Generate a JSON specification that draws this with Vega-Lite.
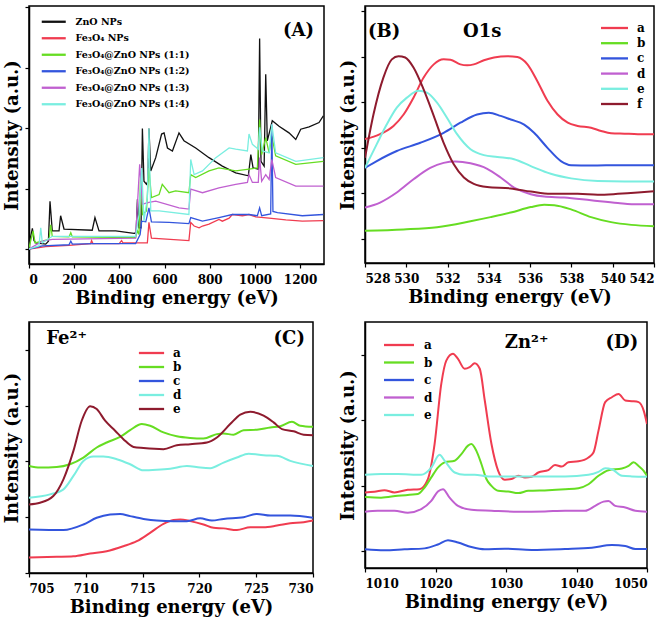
{
  "$schema": "https://vega.github.io/schema/vega-lite/v6.json",
  "background": "white",
  "padding": {"left": -10, "top": 5, "right": 0, "bottom": 0},
  "config": {
    "font": "DejaVu Serif",
    "view": {"stroke": "black", "strokeWidth": 1.5},
    "axis": {"labelFont": "DejaVu Serif", "labelFontWeight": "bold", "labelFontSize": 12, "labelColor": "black",
             "titleFont": "DejaVu Serif", "titleFontWeight": "bold", "titleFontSize": 18, "titleColor": "black",
             "grid": false, "tickColor": "black", "tickSize": 4, "tickWidth": 1.2, "domainColor": "black", "domainWidth": 1.5,
             "labelPadding": 6, "titlePadding": 4, "format": "d"},
    "axisY": {"titlePadding": 3},
    "legend": {"orient": "none", "title": null, "padding": 0, "labelFont": "DejaVu Serif", "labelFontWeight": "bold",
               "labelColor": "black", "symbolStrokeWidth": 2.3, "symbolSize": 36},
    "text": {"font": "DejaVu Serif", "fontWeight": "bold", "fontSize": 18, "color": "black"}
  },
  "resolve": {"scale": {"color": "independent"}, "legend": {"color": "independent"}},
  "columns": 4,
  "bounds": "flush",
  "align": "none",
  "spacing": {"row": 58, "column": 1},
  "concat": [
    {"width": 26, "height": 1, "data": {"values": []}, "mark": {"type": "point"}, "view": {"stroke": null}},
    {
      "width": 295, "height": 258,
      "data": {"values": [
        {"s":"ZnO NPs","x":0,"y":0},{"s":"ZnO NPs","x":3,"y":0.13},{"s":"ZnO NPs","x":15,"y":0.34},{"s":"ZnO NPs","x":22,"y":0.14},{"s":"ZnO NPs","x":30,"y":0.10},{"s":"ZnO NPs","x":74,"y":0.08},{"s":"ZnO NPs","x":86,"y":0.13},{"s":"ZnO NPs","x":93,"y":0.79},{"s":"ZnO NPs","x":103,"y":0.30},{"s":"ZnO NPs","x":133,"y":0.30},{"s":"ZnO NPs","x":140,"y":0.55},{"s":"ZnO NPs","x":155,"y":0.33},{"s":"ZnO NPs","x":280,"y":0.31},{"s":"ZnO NPs","x":292,"y":0.52},{"s":"ZnO NPs","x":310,"y":0.30},{"s":"ZnO NPs","x":384,"y":0.30},{"s":"ZnO NPs","x":465,"y":0.26},{"s":"ZnO NPs","x":474,"y":0.26},{"s":"ZnO NPs","x":480,"y":0.82},{"s":"ZnO NPs","x":487,"y":0.35},{"s":"ZnO NPs","x":496,"y":0.35},{"s":"ZnO NPs","x":502,"y":1.99},{"s":"ZnO NPs","x":509,"y":1.12},{"s":"ZnO NPs","x":520,"y":1.07},{"s":"ZnO NPs","x":526,"y":1.12},{"s":"ZnO NPs","x":531,"y":1.99},{"s":"ZnO NPs","x":539,"y":1.29},{"s":"ZnO NPs","x":561,"y":1.51},{"s":"ZnO NPs","x":587,"y":1.90},{"s":"ZnO NPs","x":598,"y":1.92},{"s":"ZnO NPs","x":613,"y":1.67},{"s":"ZnO NPs","x":635,"y":1.62},{"s":"ZnO NPs","x":664,"y":1.92},{"s":"ZnO NPs","x":686,"y":1.79},{"s":"ZnO NPs","x":738,"y":1.67},{"s":"ZnO NPs","x":797,"y":1.51},{"s":"ZnO NPs","x":856,"y":1.37},{"s":"ZnO NPs","x":915,"y":1.26},{"s":"ZnO NPs","x":971,"y":1.21},{"s":"ZnO NPs","x":982,"y":1.56},{"s":"ZnO NPs","x":992,"y":1.34},{"s":"ZnO NPs","x":1015,"y":1.32},{"s":"ZnO NPs","x":1021,"y":3.48},{"s":"ZnO NPs","x":1027,"y":1.45},{"s":"ZnO NPs","x":1041,"y":1.37},{"s":"ZnO NPs","x":1048,"y":2.89},{"s":"ZnO NPs","x":1055,"y":1.79},{"s":"ZnO NPs","x":1070,"y":2.01},{"s":"ZnO NPs","x":1077,"y":2.12},{"s":"ZnO NPs","x":1107,"y":2.03},{"s":"ZnO NPs","x":1151,"y":1.92},{"s":"ZnO NPs","x":1181,"y":1.81},{"s":"ZnO NPs","x":1203,"y":1.98},{"s":"ZnO NPs","x":1240,"y":2.02},{"s":"ZnO NPs","x":1284,"y":2.09},{"s":"ZnO NPs","x":1303,"y":2.20},
        {"s":"Fe₃O₄ NPs","x":0,"y":0},{"s":"Fe₃O₄ NPs","x":74,"y":0.04},{"s":"Fe₃O₄ NPs","x":177,"y":0.06},{"s":"Fe₃O₄ NPs","x":273,"y":0.09},{"s":"Fe₃O₄ NPs","x":277,"y":0.14},{"s":"Fe₃O₄ NPs","x":283,"y":0.09},{"s":"Fe₃O₄ NPs","x":399,"y":0.09},{"s":"Fe₃O₄ NPs","x":410,"y":0.14},{"s":"Fe₃O₄ NPs","x":416,"y":0.10},{"s":"Fe₃O₄ NPs","x":524,"y":0.10},{"s":"Fe₃O₄ NPs","x":531,"y":0.44},{"s":"Fe₃O₄ NPs","x":542,"y":0.18},{"s":"Fe₃O₄ NPs","x":708,"y":0.14},{"s":"Fe₃O₄ NPs","x":716,"y":0.44},{"s":"Fe₃O₄ NPs","x":731,"y":0.38},{"s":"Fe₃O₄ NPs","x":753,"y":0.35},{"s":"Fe₃O₄ NPs","x":768,"y":0.38},{"s":"Fe₃O₄ NPs","x":797,"y":0.41},{"s":"Fe₃O₄ NPs","x":841,"y":0.49},{"s":"Fe₃O₄ NPs","x":856,"y":0.46},{"s":"Fe₃O₄ NPs","x":886,"y":0.51},{"s":"Fe₃O₄ NPs","x":900,"y":0.57},{"s":"Fe₃O₄ NPs","x":945,"y":0.55},{"s":"Fe₃O₄ NPs","x":974,"y":0.57},{"s":"Fe₃O₄ NPs","x":1004,"y":0.53},{"s":"Fe₃O₄ NPs","x":1063,"y":0.51},{"s":"Fe₃O₄ NPs","x":1137,"y":0.48},{"s":"Fe₃O₄ NPs","x":1210,"y":0.46},{"s":"Fe₃O₄ NPs","x":1303,"y":0.47},
        {"s":"Fe₃O₄@ZnO NPs (1:1)","x":0,"y":0.02},{"s":"Fe₃O₄@ZnO NPs (1:1)","x":18,"y":0.30},{"s":"Fe₃O₄@ZnO NPs (1:1)","x":27,"y":0.10},{"s":"Fe₃O₄@ZnO NPs (1:1)","x":89,"y":0.16},{"s":"Fe₃O₄@ZnO NPs (1:1)","x":96,"y":0.40},{"s":"Fe₃O₄@ZnO NPs (1:1)","x":103,"y":0.21},{"s":"Fe₃O₄@ZnO NPs (1:1)","x":177,"y":0.20},{"s":"Fe₃O₄@ZnO NPs (1:1)","x":185,"y":0.27},{"s":"Fe₃O₄@ZnO NPs (1:1)","x":192,"y":0.20},{"s":"Fe₃O₄@ZnO NPs (1:1)","x":472,"y":0.19},{"s":"Fe₃O₄@ZnO NPs (1:1)","x":480,"y":0.30},{"s":"Fe₃O₄@ZnO NPs (1:1)","x":487,"y":0.24},{"s":"Fe₃O₄@ZnO NPs (1:1)","x":494,"y":1.23},{"s":"Fe₃O₄@ZnO NPs (1:1)","x":502,"y":0.57},{"s":"Fe₃O₄@ZnO NPs (1:1)","x":520,"y":0.63},{"s":"Fe₃O₄@ZnO NPs (1:1)","x":531,"y":1.34},{"s":"Fe₃O₄@ZnO NPs (1:1)","x":542,"y":0.85},{"s":"Fe₃O₄@ZnO NPs (1:1)","x":576,"y":0.90},{"s":"Fe₃O₄@ZnO NPs (1:1)","x":590,"y":1.07},{"s":"Fe₃O₄@ZnO NPs (1:1)","x":620,"y":0.93},{"s":"Fe₃O₄@ZnO NPs (1:1)","x":649,"y":0.96},{"s":"Fe₃O₄@ZnO NPs (1:1)","x":708,"y":0.93},{"s":"Fe₃O₄@ZnO NPs (1:1)","x":716,"y":1.23},{"s":"Fe₃O₄@ZnO NPs (1:1)","x":738,"y":1.18},{"s":"Fe₃O₄@ZnO NPs (1:1)","x":797,"y":1.29},{"s":"Fe₃O₄@ZnO NPs (1:1)","x":841,"y":1.34},{"s":"Fe₃O₄@ZnO NPs (1:1)","x":915,"y":1.29},{"s":"Fe₃O₄@ZnO NPs (1:1)","x":974,"y":1.32},{"s":"Fe₃O₄@ZnO NPs (1:1)","x":1011,"y":1.34},{"s":"Fe₃O₄@ZnO NPs (1:1)","x":1021,"y":2.14},{"s":"Fe₃O₄@ZnO NPs (1:1)","x":1030,"y":1.56},{"s":"Fe₃O₄@ZnO NPs (1:1)","x":1048,"y":1.84},{"s":"Fe₃O₄@ZnO NPs (1:1)","x":1063,"y":1.59},{"s":"Fe₃O₄@ZnO NPs (1:1)","x":1075,"y":1.87},{"s":"Fe₃O₄@ZnO NPs (1:1)","x":1092,"y":1.54},{"s":"Fe₃O₄@ZnO NPs (1:1)","x":1181,"y":1.40},{"s":"Fe₃O₄@ZnO NPs (1:1)","x":1303,"y":1.45},
        {"s":"Fe₃O₄@ZnO NPs (1:2)","x":0,"y":0},{"s":"Fe₃O₄@ZnO NPs (1:2)","x":59,"y":0.05},{"s":"Fe₃O₄@ZnO NPs (1:2)","x":177,"y":0.07},{"s":"Fe₃O₄@ZnO NPs (1:2)","x":185,"y":0.13},{"s":"Fe₃O₄@ZnO NPs (1:2)","x":192,"y":0.08},{"s":"Fe₃O₄@ZnO NPs (1:2)","x":295,"y":0.09},{"s":"Fe₃O₄@ZnO NPs (1:2)","x":472,"y":0.09},{"s":"Fe₃O₄@ZnO NPs (1:2)","x":492,"y":0.24},{"s":"Fe₃O₄@ZnO NPs (1:2)","x":499,"y":0.46},{"s":"Fe₃O₄@ZnO NPs (1:2)","x":517,"y":0.45},{"s":"Fe₃O₄@ZnO NPs (1:2)","x":531,"y":0.68},{"s":"Fe₃O₄@ZnO NPs (1:2)","x":542,"y":0.45},{"s":"Fe₃O₄@ZnO NPs (1:2)","x":620,"y":0.44},{"s":"Fe₃O₄@ZnO NPs (1:2)","x":708,"y":0.42},{"s":"Fe₃O₄@ZnO NPs (1:2)","x":716,"y":0.52},{"s":"Fe₃O₄@ZnO NPs (1:2)","x":768,"y":0.46},{"s":"Fe₃O₄@ZnO NPs (1:2)","x":841,"y":0.52},{"s":"Fe₃O₄@ZnO NPs (1:2)","x":900,"y":0.57},{"s":"Fe₃O₄@ZnO NPs (1:2)","x":974,"y":0.57},{"s":"Fe₃O₄@ZnO NPs (1:2)","x":1011,"y":0.55},{"s":"Fe₃O₄@ZnO NPs (1:2)","x":1021,"y":0.68},{"s":"Fe₃O₄@ZnO NPs (1:2)","x":1030,"y":0.55},{"s":"Fe₃O₄@ZnO NPs (1:2)","x":1070,"y":0.58},{"s":"Fe₃O₄@ZnO NPs (1:2)","x":1075,"y":2.06},{"s":"Fe₃O₄@ZnO NPs (1:2)","x":1080,"y":0.62},{"s":"Fe₃O₄@ZnO NPs (1:2)","x":1100,"y":0.60},{"s":"Fe₃O₄@ZnO NPs (1:2)","x":1210,"y":0.55},{"s":"Fe₃O₄@ZnO NPs (1:2)","x":1303,"y":0.57},
        {"s":"Fe₃O₄@ZnO NPs (1:3)","x":0,"y":0},{"s":"Fe₃O₄@ZnO NPs (1:3)","x":59,"y":0.13},{"s":"Fe₃O₄@ZnO NPs (1:3)","x":103,"y":0.16},{"s":"Fe₃O₄@ZnO NPs (1:3)","x":472,"y":0.18},{"s":"Fe₃O₄@ZnO NPs (1:3)","x":490,"y":1.40},{"s":"Fe₃O₄@ZnO NPs (1:3)","x":502,"y":0.74},{"s":"Fe₃O₄@ZnO NPs (1:3)","x":531,"y":0.77},{"s":"Fe₃O₄@ZnO NPs (1:3)","x":561,"y":0.79},{"s":"Fe₃O₄@ZnO NPs (1:3)","x":664,"y":0.68},{"s":"Fe₃O₄@ZnO NPs (1:3)","x":708,"y":0.66},{"s":"Fe₃O₄@ZnO NPs (1:3)","x":716,"y":0.99},{"s":"Fe₃O₄@ZnO NPs (1:3)","x":768,"y":0.93},{"s":"Fe₃O₄@ZnO NPs (1:3)","x":841,"y":1.01},{"s":"Fe₃O₄@ZnO NPs (1:3)","x":915,"y":1.07},{"s":"Fe₃O₄@ZnO NPs (1:3)","x":967,"y":1.10},{"s":"Fe₃O₄@ZnO NPs (1:3)","x":974,"y":1.23},{"s":"Fe₃O₄@ZnO NPs (1:3)","x":989,"y":1.10},{"s":"Fe₃O₄@ZnO NPs (1:3)","x":1015,"y":1.10},{"s":"Fe₃O₄@ZnO NPs (1:3)","x":1021,"y":1.51},{"s":"Fe₃O₄@ZnO NPs (1:3)","x":1030,"y":1.12},{"s":"Fe₃O₄@ZnO NPs (1:3)","x":1048,"y":1.23},{"s":"Fe₃O₄@ZnO NPs (1:3)","x":1063,"y":1.15},{"s":"Fe₃O₄@ZnO NPs (1:3)","x":1075,"y":1.48},{"s":"Fe₃O₄@ZnO NPs (1:3)","x":1092,"y":1.18},{"s":"Fe₃O₄@ZnO NPs (1:3)","x":1181,"y":1.04},{"s":"Fe₃O₄@ZnO NPs (1:3)","x":1303,"y":1.04},
        {"s":"Fe₃O₄@ZnO NPs (1:4)","x":0,"y":0},{"s":"Fe₃O₄@ZnO NPs (1:4)","x":44,"y":0.05},{"s":"Fe₃O₄@ZnO NPs (1:4)","x":52,"y":0.35},{"s":"Fe₃O₄@ZnO NPs (1:4)","x":59,"y":0.10},{"s":"Fe₃O₄@ZnO NPs (1:4)","x":103,"y":0.21},{"s":"Fe₃O₄@ZnO NPs (1:4)","x":472,"y":0.21},{"s":"Fe₃O₄@ZnO NPs (1:4)","x":487,"y":0.57},{"s":"Fe₃O₄@ZnO NPs (1:4)","x":499,"y":1.34},{"s":"Fe₃O₄@ZnO NPs (1:4)","x":509,"y":0.46},{"s":"Fe₃O₄@ZnO NPs (1:4)","x":524,"y":0.85},{"s":"Fe₃O₄@ZnO NPs (1:4)","x":531,"y":1.99},{"s":"Fe₃O₄@ZnO NPs (1:4)","x":539,"y":0.63},{"s":"Fe₃O₄@ZnO NPs (1:4)","x":576,"y":0.63},{"s":"Fe₃O₄@ZnO NPs (1:4)","x":708,"y":0.57},{"s":"Fe₃O₄@ZnO NPs (1:4)","x":716,"y":1.48},{"s":"Fe₃O₄@ZnO NPs (1:4)","x":731,"y":1.23},{"s":"Fe₃O₄@ZnO NPs (1:4)","x":768,"y":1.29},{"s":"Fe₃O₄@ZnO NPs (1:4)","x":827,"y":1.51},{"s":"Fe₃O₄@ZnO NPs (1:4)","x":886,"y":1.67},{"s":"Fe₃O₄@ZnO NPs (1:4)","x":915,"y":1.65},{"s":"Fe₃O₄@ZnO NPs (1:4)","x":967,"y":1.62},{"s":"Fe₃O₄@ZnO NPs (1:4)","x":974,"y":1.90},{"s":"Fe₃O₄@ZnO NPs (1:4)","x":989,"y":1.73},{"s":"Fe₃O₄@ZnO NPs (1:4)","x":1015,"y":1.65},{"s":"Fe₃O₄@ZnO NPs (1:4)","x":1021,"y":2.01},{"s":"Fe₃O₄@ZnO NPs (1:4)","x":1033,"y":1.62},{"s":"Fe₃O₄@ZnO NPs (1:4)","x":1063,"y":1.59},{"s":"Fe₃O₄@ZnO NPs (1:4)","x":1075,"y":2.06},{"s":"Fe₃O₄@ZnO NPs (1:4)","x":1092,"y":1.59},{"s":"Fe₃O₄@ZnO NPs (1:4)","x":1181,"y":1.45},{"s":"Fe₃O₄@ZnO NPs (1:4)","x":1303,"y":1.51}
      ]},
      "layer": [
        {
          "mark": {"type": "line", "strokeWidth": 1.3, "clip": true},
          "encoding": {
            "x": {"field": "x", "type": "quantitative", "scale": {"domain": [0, 1306], "nice": false, "zero": false},
                  "axis": {"values": [0, 200, 400, 600, 800, 1000, 1200], "title": "Binding energy (eV)"}},
            "y": {"field": "y", "type": "quantitative", "scale": {"domain": [-0.248, 4.017], "nice": false, "zero": false},
                  "axis": {"values": [0, 1, 2, 3, 4], "labels": false, "title": "Intensity (a.u.)"}},
            "color": {"field": "s", "type": "nominal",
                      "scale": {"domain": ["ZnO NPs", "Fe₃O₄ NPs", "Fe₃O₄@ZnO NPs (1:1)", "Fe₃O₄@ZnO NPs (1:2)", "Fe₃O₄@ZnO NPs (1:3)", "Fe₃O₄@ZnO NPs (1:4)"],
                                "range": ["#111111", "#f03c50", "#66dd22", "#3355dd", "#c060d0", "#7aeee0"]},
                      "legend": {"legendX": 20, "legendY": 11, "symbolType": "M-4,0H4", "labelOffset": 17, "rowPadding": 5.5, "labelFontSize": 9.5}}
          }
        },
        {
          "data": {"values": [{"t": "(A)"}]},
          "mark": {"type": "text"},
          "encoding": {"x": {"datum": 1193}, "y": {"datum": 3.61}, "text": {"field": "t"}}
        }
      ]
    },
    {"width": 33, "height": 1, "data": {"values": []}, "mark": {"type": "point"}, "view": {"stroke": null}},
    {
      "width": 289, "height": 257,
      "data": {"values": [
        {"s":"a","x":528.0,"y":2.19},{"s":"a","x":528.73,"y":2.30},{"s":"a","x":529.38,"y":2.48},{"s":"a","x":529.87,"y":2.73},{"s":"a","x":530.35,"y":3.10},{"s":"a","x":530.84,"y":3.54},{"s":"a","x":531.33,"y":3.83},{"s":"a","x":531.81,"y":3.94},{"s":"a","x":532.14,"y":3.93},{"s":"a","x":532.62,"y":3.83},{"s":"a","x":532.95,"y":3.81},{"s":"a","x":533.27,"y":3.83},{"s":"a","x":533.76,"y":3.92},{"s":"a","x":534.25,"y":3.98},{"s":"a","x":534.89,"y":4.01},{"s":"a","x":535.38,"y":3.99},{"s":"a","x":535.87,"y":3.83},{"s":"a","x":536.35,"y":3.46},{"s":"a","x":536.84,"y":3.03},{"s":"a","x":537.33,"y":2.73},{"s":"a","x":537.82,"y":2.55},{"s":"a","x":538.30,"y":2.48},{"s":"a","x":538.95,"y":2.44},{"s":"a","x":539.44,"y":2.37},{"s":"a","x":539.92,"y":2.32},{"s":"a","x":540.57,"y":2.31},{"s":"a","x":541.22,"y":2.30},{"s":"a","x":542.0,"y":2.30},
        {"s":"b","x":528,"y":0.18},{"s":"b","x":529.87,"y":0.21},{"s":"b","x":531.49,"y":0.26},{"s":"b","x":533.11,"y":0.39},{"s":"b","x":534.08,"y":0.48},{"s":"b","x":535.06,"y":0.58},{"s":"b","x":536.03,"y":0.70},{"s":"b","x":536.68,"y":0.75},{"s":"b","x":537.17,"y":0.74},{"s":"b","x":537.98,"y":0.65},{"s":"b","x":538.95,"y":0.48},{"s":"b","x":539.92,"y":0.37},{"s":"b","x":540.90,"y":0.31},{"s":"b","x":542,"y":0.28},
        {"s":"c","x":528,"y":1.56},{"s":"c","x":528.57,"y":1.71},{"s":"c","x":529.54,"y":1.93},{"s":"c","x":530.68,"y":2.11},{"s":"c","x":531.81,"y":2.33},{"s":"c","x":532.62,"y":2.55},{"s":"c","x":533.43,"y":2.73},{"s":"c","x":534.0,"y":2.77},{"s":"c","x":534.57,"y":2.70},{"s":"c","x":535.06,"y":2.62},{"s":"c","x":535.71,"y":2.51},{"s":"c","x":536.19,"y":2.33},{"s":"c","x":536.84,"y":2.00},{"s":"c","x":537.49,"y":1.71},{"s":"c","x":537.98,"y":1.62},{"s":"c","x":538.95,"y":1.61},{"s":"c","x":540.41,"y":1.62},{"s":"c","x":542,"y":1.62},
        {"s":"d","x":528,"y":0.69},{"s":"d","x":528.73,"y":0.80},{"s":"d","x":529.54,"y":1.02},{"s":"d","x":530.35,"y":1.31},{"s":"d","x":531.16,"y":1.56},{"s":"d","x":531.81,"y":1.67},{"s":"d","x":532.38,"y":1.70},{"s":"d","x":533.11,"y":1.66},{"s":"d","x":533.92,"y":1.54},{"s":"d","x":534.57,"y":1.35},{"s":"d","x":535.22,"y":1.13},{"s":"d","x":536.03,"y":0.98},{"s":"d","x":536.68,"y":0.93},{"s":"d","x":537.65,"y":0.91},{"s":"d","x":538.95,"y":0.85},{"s":"d","x":540.25,"y":0.79},{"s":"d","x":541.22,"y":0.76},{"s":"d","x":542,"y":0.76},
        {"s":"e","x":528,"y":1.56},{"s":"e","x":528.57,"y":2.08},{"s":"e","x":529.05,"y":2.51},{"s":"e","x":529.54,"y":2.88},{"s":"e","x":530.03,"y":3.10},{"s":"e","x":530.60,"y":3.25},{"s":"e","x":531.0,"y":3.21},{"s":"e","x":531.49,"y":2.99},{"s":"e","x":531.97,"y":2.66},{"s":"e","x":532.46,"y":2.30},{"s":"e","x":533.11,"y":1.97},{"s":"e","x":533.76,"y":1.84},{"s":"e","x":534.41,"y":1.80},{"s":"e","x":535.22,"y":1.75},{"s":"e","x":536.03,"y":1.60},{"s":"e","x":537.0,"y":1.43},{"s":"e","x":537.98,"y":1.33},{"s":"e","x":539.27,"y":1.27},{"s":"e","x":540.57,"y":1.26},{"s":"e","x":542,"y":1.26},
        {"s":"f","x":528,"y":1.78},{"s":"f","x":528.41,"y":2.73},{"s":"f","x":528.89,"y":3.54},{"s":"f","x":529.30,"y":3.94},{"s":"f","x":529.62,"y":4.01},{"s":"f","x":529.95,"y":3.98},{"s":"f","x":530.35,"y":3.76},{"s":"f","x":530.84,"y":3.28},{"s":"f","x":531.33,"y":2.70},{"s":"f","x":531.81,"y":2.11},{"s":"f","x":532.30,"y":1.64},{"s":"f","x":532.79,"y":1.35},{"s":"f","x":533.27,"y":1.21},{"s":"f","x":533.92,"y":1.14},{"s":"f","x":535.06,"y":1.11},{"s":"f","x":536.03,"y":1.04},{"s":"f","x":537.0,"y":0.99},{"s":"f","x":538.30,"y":0.99},{"s":"f","x":539.27,"y":0.97},{"s":"f","x":540.25,"y":0.99},{"s":"f","x":541.22,"y":1.02},{"s":"f","x":542,"y":1.05}
      ]},
      "layer": [
        {
          "mark": {"type": "line", "strokeWidth": 2, "interpolate": "monotone", "clip": true},
          "encoding": {
            "x": {"field": "x", "type": "quantitative", "scale": {"domain": [528, 542], "nice": false, "zero": false},
                  "axis": {"values": [528, 530, 532, 534, 536, 538, 540, 542], "title": "Binding energy (eV)"}},
            "y": {"field": "y", "type": "quantitative", "scale": {"domain": [-0.526, 5.11], "nice": false, "zero": false},
                  "axis": {"values": [0, 1, 2, 3, 4, 5], "labels": false, "title": "Intensity (a.u.)"}},
            "color": {"field": "s", "type": "nominal",
                      "scale": {"domain": ["a", "b", "c", "d", "e", "f"], "range": ["#f03c50", "#66dd22", "#3355dd", "#c060d0", "#7aeee0", "#8e1b2e"]},
                      "legend": {"legendX": 243.5, "legendY": 16, "symbolType": "M-4.5,0H4.5", "labelOffset": 16.5, "rowPadding": 3.2, "labelFontSize": 12}}
          }
        },
        {
          "data": {"values": [{"t": "(B)", "px": 528.93}, {"t": "O1s", "px": 533.68}]},
          "mark": {"type": "text"},
          "encoding": {"x": {"field": "px", "type": "quantitative"}, "y": {"datum": 4.55}, "text": {"field": "t"}}
        }
      ]
    },
    {"width": 38, "height": 1, "data": {"values": []}, "mark": {"type": "point"}, "view": {"stroke": null}},
    {
      "width": 284, "height": 251,
      "data": {"values": [
        {"s":"a","x":705,"y":0.28},{"s":"a","x":707.44,"y":0.29},{"s":"a","x":708.91,"y":0.30},{"s":"a","x":710.38,"y":0.35},{"s":"a","x":711.84,"y":0.39},{"s":"a","x":713.31,"y":0.48},{"s":"a","x":714.49,"y":0.57},{"s":"a","x":715.66,"y":0.72},{"s":"a","x":716.84,"y":0.88},{"s":"a","x":717.72,"y":0.95},{"s":"a","x":718.31,"y":0.96},{"s":"a","x":719.19,"y":0.93},{"s":"a","x":720.36,"y":0.87},{"s":"a","x":721.25,"y":0.81},{"s":"a","x":722.13,"y":0.80},{"s":"a","x":723.30,"y":0.77},{"s":"a","x":724.48,"y":0.82},{"s":"a","x":725.65,"y":0.82},{"s":"a","x":726.83,"y":0.85},{"s":"a","x":728.0,"y":0.89},{"s":"a","x":729.18,"y":0.91},{"s":"a","x":730,"y":0.94},
        {"s":"b","x":705,"y":1.92},{"s":"b","x":705.97,"y":1.89},{"s":"b","x":707.44,"y":1.90},{"s":"b","x":708.61,"y":1.95},{"s":"b","x":709.79,"y":2.07},{"s":"b","x":710.96,"y":2.25},{"s":"b","x":711.84,"y":2.34},{"s":"b","x":713.02,"y":2.44},{"s":"b","x":713.90,"y":2.56},{"s":"b","x":714.93,"y":2.67},{"s":"b","x":715.66,"y":2.64},{"s":"b","x":716.84,"y":2.52},{"s":"b","x":718.01,"y":2.45},{"s":"b","x":719.19,"y":2.42},{"s":"b","x":720.36,"y":2.41},{"s":"b","x":721.54,"y":2.49},{"s":"b","x":722.13,"y":2.50},{"s":"b","x":723.01,"y":2.48},{"s":"b","x":723.89,"y":2.56},{"s":"b","x":725.06,"y":2.57},{"s":"b","x":726.24,"y":2.61},{"s":"b","x":727.12,"y":2.63},{"s":"b","x":728.15,"y":2.71},{"s":"b","x":728.88,"y":2.64},{"s":"b","x":730,"y":2.62},
        {"s":"c","x":705,"y":0.78},{"s":"c","x":708.03,"y":0.77},{"s":"c","x":709.79,"y":0.87},{"s":"c","x":710.96,"y":0.99},{"s":"c","x":712.14,"y":1.05},{"s":"c","x":713.02,"y":1.06},{"s":"c","x":713.90,"y":1.02},{"s":"c","x":715.08,"y":0.97},{"s":"c","x":716.25,"y":0.94},{"s":"c","x":717.72,"y":0.93},{"s":"c","x":718.90,"y":0.93},{"s":"c","x":720.07,"y":0.98},{"s":"c","x":721.10,"y":0.94},{"s":"c","x":722.13,"y":0.97},{"s":"c","x":723.89,"y":1.00},{"s":"c","x":725.06,"y":1.06},{"s":"c","x":726.24,"y":1.03},{"s":"c","x":728.0,"y":1.03},{"s":"c","x":730,"y":0.99},
        {"s":"d","x":705,"y":1.35},{"s":"d","x":706.85,"y":1.41},{"s":"d","x":708.03,"y":1.50},{"s":"d","x":708.91,"y":1.74},{"s":"d","x":709.79,"y":2.01},{"s":"d","x":710.67,"y":2.09},{"s":"d","x":711.55,"y":2.09},{"s":"d","x":712.73,"y":2.04},{"s":"d","x":713.90,"y":1.95},{"s":"d","x":715.08,"y":1.84},{"s":"d","x":716.25,"y":1.85},{"s":"d","x":717.43,"y":1.87},{"s":"d","x":718.90,"y":1.92},{"s":"d","x":720.07,"y":1.89},{"s":"d","x":720.95,"y":1.88},{"s":"d","x":722.13,"y":1.98},{"s":"d","x":723.30,"y":2.07},{"s":"d","x":724.33,"y":2.14},{"s":"d","x":725.65,"y":2.11},{"s":"d","x":726.83,"y":2.10},{"s":"d","x":728.0,"y":2.01},{"s":"d","x":730,"y":1.92},
        {"s":"e","x":705,"y":1.23},{"s":"e","x":705.97,"y":1.26},{"s":"e","x":707.14,"y":1.38},{"s":"e","x":708.03,"y":1.68},{"s":"e","x":708.91,"y":2.19},{"s":"e","x":709.64,"y":2.73},{"s":"e","x":710.38,"y":2.99},{"s":"e","x":710.96,"y":2.94},{"s":"e","x":711.70,"y":2.73},{"s":"e","x":712.58,"y":2.55},{"s":"e","x":713.31,"y":2.40},{"s":"e","x":714.20,"y":2.26},{"s":"e","x":715.08,"y":2.24},{"s":"e","x":716.84,"y":2.22},{"s":"e","x":718.01,"y":2.29},{"s":"e","x":719.19,"y":2.31},{"s":"e","x":720.66,"y":2.34},{"s":"e","x":721.54,"y":2.43},{"s":"e","x":722.71,"y":2.67},{"s":"e","x":723.60,"y":2.84},{"s":"e","x":724.48,"y":2.89},{"s":"e","x":725.65,"y":2.82},{"s":"e","x":726.53,"y":2.70},{"s":"e","x":727.27,"y":2.58},{"s":"e","x":728.30,"y":2.54},{"s":"e","x":729.18,"y":2.48},{"s":"e","x":730,"y":2.47}
      ]},
      "layer": [
        {
          "mark": {"type": "line", "strokeWidth": 2, "interpolate": "monotone", "clip": true},
          "encoding": {
            "x": {"field": "x", "type": "quantitative", "scale": {"domain": [705, 730], "nice": false, "zero": false},
                  "axis": {"values": [705, 710, 715, 720, 725, 730], "title": "Binding energy (eV)"}},
            "y": {"field": "y", "type": "quantitative", "scale": {"domain": [0, 4.5], "nice": false, "zero": false},
                  "axis": {"values": [0, 1, 2, 3, 4], "labels": false, "title": "Intensity (a.u.)"}},
            "color": {"field": "s", "type": "nominal",
                      "scale": {"domain": ["a", "b", "c", "d", "e"], "range": ["#f03c50", "#66dd22", "#3355dd", "#7aeee0", "#8e1b2e"]},
                      "legend": {"legendX": 116.5, "legendY": 25, "symbolType": "M-4.2,0H4.2", "labelOffset": 15.5, "rowPadding": 2, "labelFontSize": 12}}
          }
        },
        {
          "data": {"values": [{"t": "Fe²⁺", "px": 708.31}, {"t": "(C)", "px": 727.91}]},
          "mark": {"type": "text"},
          "encoding": {"x": {"field": "px", "type": "quantitative"}, "y": {"datum": 4.2}, "text": {"field": "t"}}
        }
      ]
    },
    {"width": 39, "height": 1, "data": {"values": []}, "mark": {"type": "point"}, "view": {"stroke": null}},
    {
      "width": 282, "height": 246,
      "data": {"values": [
        {"s":"a","x":1010,"y":1.79},{"s":"a","x":1011.33,"y":1.81},{"s":"a","x":1012.75,"y":1.86},{"s":"a","x":1014.18,"y":1.79},{"s":"a","x":1016.07,"y":1.87},{"s":"a","x":1017.73,"y":1.89},{"s":"a","x":1018.92,"y":2.20},{"s":"a","x":1019.87,"y":3.27},{"s":"a","x":1020.82,"y":5.11},{"s":"a","x":1021.53,"y":5.82},{"s":"a","x":1022.48,"y":6.03},{"s":"a","x":1023.19,"y":5.87},{"s":"a","x":1024.14,"y":5.57},{"s":"a","x":1024.85,"y":5.62},{"s":"a","x":1025.56,"y":5.74},{"s":"a","x":1026.28,"y":5.57},{"s":"a","x":1026.99,"y":4.60},{"s":"a","x":1027.94,"y":3.27},{"s":"a","x":1028.89,"y":2.45},{"s":"a","x":1029.83,"y":2.18},{"s":"a","x":1030.78,"y":2.20},{"s":"a","x":1031.73,"y":2.30},{"s":"a","x":1032.68,"y":2.25},{"s":"a","x":1033.63,"y":2.27},{"s":"a","x":1034.58,"y":2.40},{"s":"a","x":1036.0,"y":2.47},{"s":"a","x":1036.95,"y":2.63},{"s":"a","x":1037.90,"y":2.58},{"s":"a","x":1038.85,"y":2.71},{"s":"a","x":1040.27,"y":2.74},{"s":"a","x":1041.70,"y":2.86},{"s":"a","x":1042.41,"y":3.01},{"s":"a","x":1043.12,"y":3.68},{"s":"a","x":1044.07,"y":4.55},{"s":"a","x":1045.02,"y":4.70},{"s":"a","x":1045.97,"y":4.80},{"s":"a","x":1046.92,"y":4.60},{"s":"a","x":1047.86,"y":4.58},{"s":"a","x":1048.81,"y":4.55},{"s":"a","x":1049.53,"y":4.29},{"s":"a","x":1050,"y":3.88},
        {"s":"b","x":1010,"y":1.65},{"s":"b","x":1012.28,"y":1.63},{"s":"b","x":1014.65,"y":1.69},{"s":"b","x":1017.50,"y":1.74},{"s":"b","x":1018.45,"y":1.94},{"s":"b","x":1019.40,"y":2.25},{"s":"b","x":1020.34,"y":2.55},{"s":"b","x":1021.29,"y":2.71},{"s":"b","x":1022.72,"y":2.76},{"s":"b","x":1023.67,"y":2.96},{"s":"b","x":1024.61,"y":3.22},{"s":"b","x":1025.09,"y":3.27},{"s":"b","x":1025.80,"y":3.06},{"s":"b","x":1026.51,"y":2.66},{"s":"b","x":1027.22,"y":2.20},{"s":"b","x":1027.94,"y":1.99},{"s":"b","x":1028.89,"y":1.84},{"s":"b","x":1030.31,"y":1.82},{"s":"b","x":1031.73,"y":1.77},{"s":"b","x":1033.16,"y":1.84},{"s":"b","x":1036.0,"y":1.86},{"s":"b","x":1038.38,"y":1.89},{"s":"b","x":1040.27,"y":1.92},{"s":"b","x":1041.70,"y":2.04},{"s":"b","x":1043.12,"y":2.30},{"s":"b","x":1044.54,"y":2.47},{"s":"b","x":1046.44,"y":2.52},{"s":"b","x":1047.39,"y":2.60},{"s":"b","x":1048.10,"y":2.71},{"s":"b","x":1048.81,"y":2.60},{"s":"b","x":1049.53,"y":2.45},{"s":"b","x":1050,"y":2.30},
        {"s":"c","x":1010,"y":0.05},{"s":"c","x":1012.75,"y":0.02},{"s":"c","x":1015.60,"y":0.05},{"s":"c","x":1018.45,"y":0.08},{"s":"c","x":1020.34,"y":0.20},{"s":"c","x":1021.77,"y":0.33},{"s":"c","x":1023.19,"y":0.26},{"s":"c","x":1025.09,"y":0.12},{"s":"c","x":1026.99,"y":0.05},{"s":"c","x":1029.83,"y":0.07},{"s":"c","x":1033.63,"y":0.03},{"s":"c","x":1038.38,"y":0.06},{"s":"c","x":1042.17,"y":0.10},{"s":"c","x":1045.02,"y":0.18},{"s":"c","x":1046.92,"y":0.15},{"s":"c","x":1048.34,"y":0.06},{"s":"c","x":1050,"y":0.06},
        {"s":"d","x":1010,"y":1.20},{"s":"d","x":1011.80,"y":1.23},{"s":"d","x":1014.18,"y":1.23},{"s":"d","x":1016.07,"y":1.17},{"s":"d","x":1017.97,"y":1.28},{"s":"d","x":1019.40,"y":1.53},{"s":"d","x":1020.34,"y":1.82},{"s":"d","x":1021.06,"y":1.89},{"s":"d","x":1022.0,"y":1.63},{"s":"d","x":1023.19,"y":1.38},{"s":"d","x":1025.09,"y":1.26},{"s":"d","x":1027.94,"y":1.23},{"s":"d","x":1031.73,"y":1.20},{"s":"d","x":1035.53,"y":1.21},{"s":"d","x":1038.38,"y":1.23},{"s":"d","x":1041.22,"y":1.23},{"s":"d","x":1042.65,"y":1.38},{"s":"d","x":1043.83,"y":1.51},{"s":"d","x":1044.54,"y":1.53},{"s":"d","x":1045.49,"y":1.38},{"s":"d","x":1046.92,"y":1.33},{"s":"d","x":1048.34,"y":1.23},{"s":"d","x":1050,"y":1.20},
        {"s":"e","x":1010,"y":2.33},{"s":"e","x":1012.28,"y":2.35},{"s":"e","x":1014.65,"y":2.35},{"s":"e","x":1017.97,"y":2.33},{"s":"e","x":1019.40,"y":2.55},{"s":"e","x":1020.58,"y":2.94},{"s":"e","x":1021.29,"y":2.76},{"s":"e","x":1022.72,"y":2.40},{"s":"e","x":1024.14,"y":2.33},{"s":"e","x":1025.56,"y":2.33},{"s":"e","x":1027.46,"y":2.28},{"s":"e","x":1030.78,"y":2.28},{"s":"e","x":1034.58,"y":2.28},{"s":"e","x":1038.38,"y":2.28},{"s":"e","x":1041.70,"y":2.33},{"s":"e","x":1043.12,"y":2.42},{"s":"e","x":1044.07,"y":2.53},{"s":"e","x":1045.02,"y":2.50},{"s":"e","x":1046.44,"y":2.30},{"s":"e","x":1047.86,"y":2.28},{"s":"e","x":1050,"y":2.27}
      ]},
      "layer": [
        {
          "mark": {"type": "line", "strokeWidth": 2, "interpolate": "monotone", "clip": true},
          "encoding": {
            "x": {"field": "x", "type": "quantitative", "scale": {"domain": [1010, 1050], "nice": false, "zero": false},
                  "axis": {"values": [1010, 1020, 1030, 1040, 1050], "title": "Binding energy (eV)"}},
            "y": {"field": "y", "type": "quantitative", "scale": {"domain": [-0.52, 7.0], "nice": false, "zero": false},
                  "axis": {"values": [0, 1, 2, 3, 4, 5, 6, 7], "labels": false, "title": "Intensity (a.u.)"}},
            "color": {"field": "s", "type": "nominal",
                      "scale": {"domain": ["a", "b", "c", "d", "e"], "range": ["#f03c50", "#66dd22", "#3355dd", "#c060d0", "#7aeee0"]},
                      "legend": {"legendX": 28, "legendY": 17, "symbolType": "M-5,0H5", "labelOffset": 19, "rowPadding": 5.5, "labelFontSize": 12}}
          }
        },
        {
          "data": {"values": [{"t": "Zn²⁺", "px": 1032.92}, {"t": "(D)", "px": 1046.44}]},
          "mark": {"type": "text"},
          "encoding": {"x": {"field": "px", "type": "quantitative"}, "y": {"datum": 6.37}, "text": {"field": "t"}}
        }
      ]
    }
  ]
}
